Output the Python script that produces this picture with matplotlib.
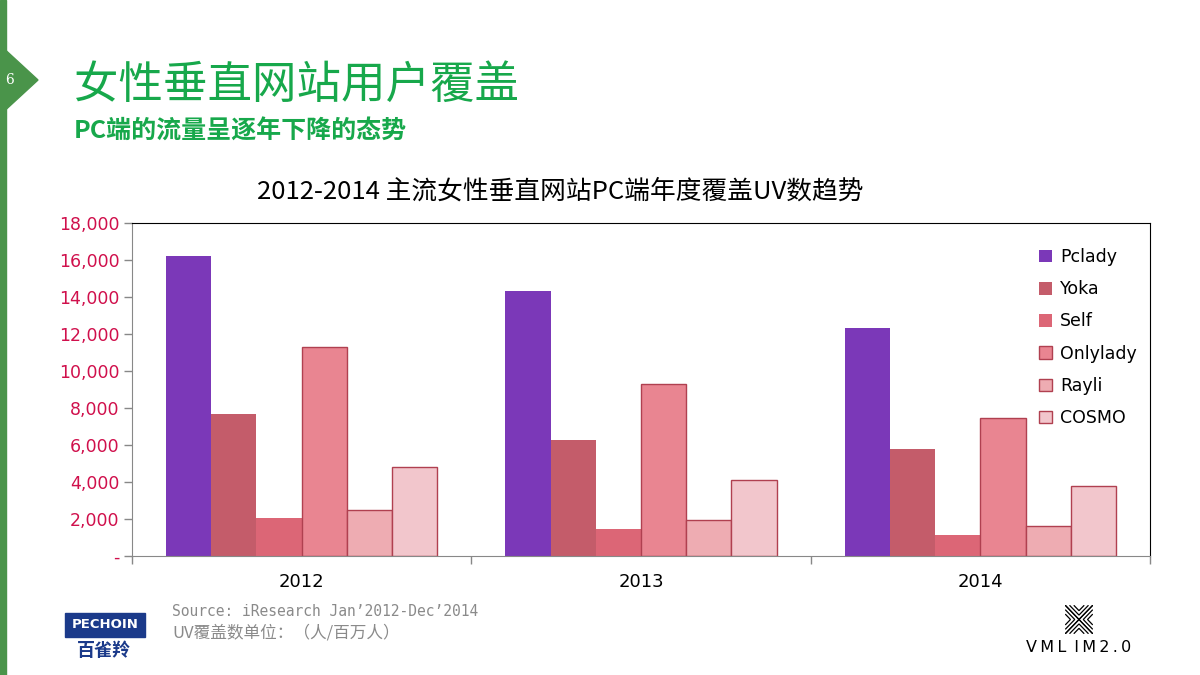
import matplotlib
matplotlib.use("Agg")
import matplotlib.pyplot as plt
from matplotlib.patches import Polygon, Rectangle
import numpy as np

plt.rcParams['font.family'] = ['Noto Sans CJK SC', 'DejaVu Sans']

years = ["2012", "2013", "2014"]
series = ["Pclady", "Yoka", "Self", "Onlylady", "Rayli", "COSMO"]
pclady = [16200, 14300, 12300]
yoka = [7700, 6270, 5780]
self_ = [2050, 1460, 1140]
onlylady = [11300, 9300, 7460]
rayli = [2490, 1950, 1620]
cosmo = [4810, 4110, 3780]
values = [pclady, yoka, self_, onlylady, rayli, cosmo]
yticks = [0, 2000, 4000, 6000, 8000, 10000, 12000, 14000, 16000, 18000]
ytick_labels = ["-", "2,000", "4,000", "6,000", "8,000", "10,000", "12,000", "14,000", "16,000", "18,000"]

colors = ["#7B38B8", "#C45C6A", "#DC6676", "#E98591", "#EEACB2", "#F2C6CC"]
edges = [None, None, None, "#B04050", "#B04050", "#B04050"]

W, H = 1200, 675
fig = plt.figure(figsize=(12, 6.75), dpi=100)
fig.patch.set_facecolor("white")

def fx(px):
    return px / W

def fy(py):
    return 1 - py / H

# left green strip and tab
green = "#4A944A"
fig.patches.append(Rectangle((0, 0), fx(6), 1, transform=fig.transFigure, color=green, zorder=1))
fig.patches.append(Polygon([(0, fy(45)), (fx(38), fy(80)), (0, fy(115))], closed=True,
                           transform=fig.transFigure, color=green, zorder=1))
fig.text(fx(9), fy(80), "6", color="white", fontsize=10, family="DejaVu Serif",
         ha="center", va="center")

# titles
tgreen = "#17A84B"
fig.text(fx(74), fy(85), "女性垂直网站用户覆盖", color=tgreen, fontsize=32, ha="left", va="center")
fig.text(fx(74), fy(132), "PC端的流量呈逐年下降的态势", color=tgreen, fontsize=18,
         ha="left", va="center", weight="bold")
fig.text(fx(560), fy(192), "2012-2014 主流女性垂直网站PC端年度覆盖UV数趋势", color="black",
         fontsize=18.5, ha="center", va="center")

# chart
ax = fig.add_axes([fx(132), fy(556), fx(1150) - fx(132), fy(223) - fy(556)])
n = len(series)
group_w = 0.8
bw = group_w / n
x = np.arange(len(years))
for i, (name, vals) in enumerate(zip(series, values)):
    offs = -group_w / 2 + bw * (i + 0.5)
    if edges[i]:
        kw = dict(edgecolor=edges[i], linewidth=1.0)
    else:
        kw = dict(linewidth=0)
    ax.bar(x + offs, vals, width=bw, color=colors[i], label=name, **kw)

ax.set_xlim(-0.5, 2.5)
ax.set_ylim(0, 18000)
ax.set_yticks(yticks)
ax.set_yticklabels(ytick_labels)
ax.tick_params(axis="y", colors="#888888", labelcolor="#D0104C", labelsize=12.5,
               length=6, width=1, direction="out", pad=3)
for lab in ax.get_yticklabels():
    lab.set_family("DejaVu Sans")
ax.set_xticks([-0.5, 0.5, 1.5, 2.5])
ax.set_xticklabels([])
ax.set_xticks(x, minor=True)
ax.set_xticklabels(years, minor=True)
ax.tick_params(axis="x", which="major", colors="#888888", length=6, width=1, direction="out")
ax.tick_params(axis="x", which="minor", length=0, labelsize=13, labelcolor="black", pad=12)
for lab in ax.get_xticklabels(minor=True):
    lab.set_family("DejaVu Sans")
ax.spines["left"].set_color("#888888")
ax.spines["bottom"].set_color("#888888")
ax.spines["top"].set_color("black")
ax.spines["right"].set_color("black")

leg = ax.legend(loc="upper left", bbox_to_anchor=(0.891, 0.925), frameon=False,
                fontsize=12.5, handlelength=0.75, handleheight=0.75, handletextpad=0.45,
                labelspacing=0.82, borderaxespad=0, borderpad=0)
for t in leg.get_texts():
    t.set_family("DejaVu Sans")

# footer source
fig.text(fx(172), fy(612), "Source: iResearch Jan\u20192012-Dec\u20192014", color="#8A8A8A",
         fontsize=10.5, family=["DejaVu Sans Mono", "Noto Sans CJK SC"], ha="left", va="center")
fig.text(fx(172), fy(633), "UV覆盖数单位：（人/百万人）", color="#8A8A8A",
         fontsize=12, ha="left", va="center")

# PECHOIN logo
navy = "#1B3A8A"
fig.patches.append(Rectangle((fx(65), fy(637)), fx(80), fy(613) - fy(637),
                             transform=fig.transFigure, color=navy))
fig.text(fx(105), fy(625), "PECHOIN", color="white", fontsize=9.5, ha="center", va="center",
         family="DejaVu Sans", weight="bold")
fig.text(fx(104), fy(651), "百雀羚", color=navy, fontsize=13, ha="center", va="center",
         weight="bold")

# VML logo
lax = fig.add_axes([fx(1065), fy(634), fx(28), fy(605) - fy(634)])
lax.set_xlim(-1.05, 1.05)
lax.set_ylim(-1.05, 1.05)
lax.axis("off")
for d in [0.36, 0.68, 1.0]:
    lax.plot([-1, -1 + d, -1], [d, 0, -d], color="black", lw=0.9, solid_joinstyle="miter")
    lax.plot([1, 1 - d, 1], [d, 0, -d], color="black", lw=0.9, solid_joinstyle="miter")
    lax.plot([-d, 0, d], [1, 1 - d, 1], color="black", lw=0.9, solid_joinstyle="miter")
    lax.plot([-d, 0, d], [-1, -1 + d, -1], color="black", lw=0.9, solid_joinstyle="miter")
fig.text(fx(1079), fy(648), "V\u2009M\u2009L\u2002I\u2009M\u20092\u2009.\u20090", color="black",
         fontsize=11.5, ha="center", va="center", family="DejaVu Sans")

fig.savefig("out.png", dpi=100)
